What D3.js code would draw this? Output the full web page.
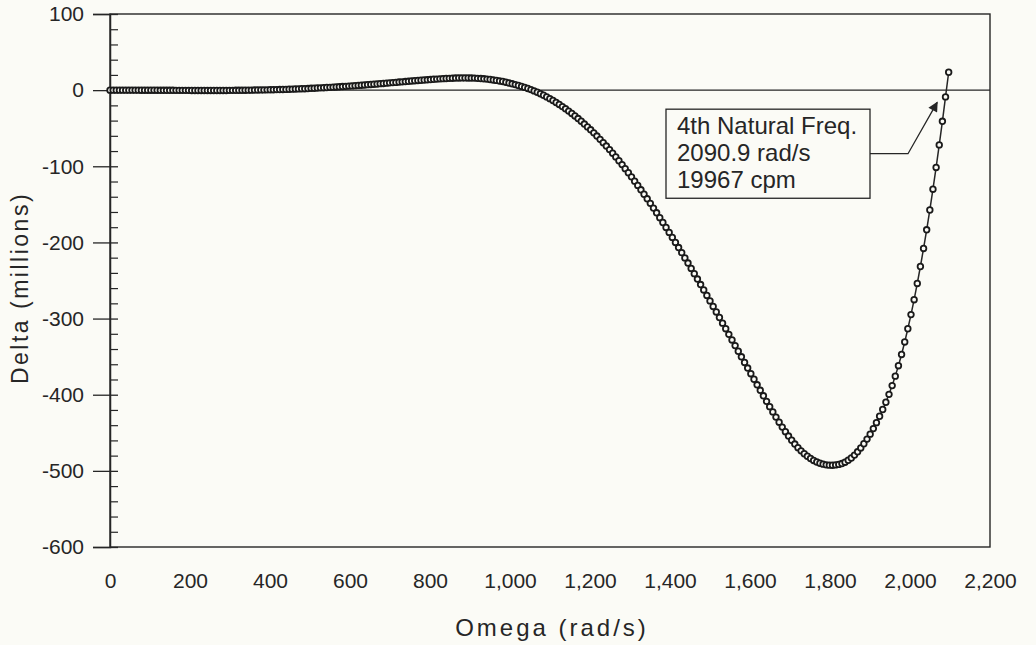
<!DOCTYPE html>
<html><head><meta charset="utf-8">
<script src="https://cdn.jsdelivr.net/npm/d3@7"></script>
<style>body{margin:0;background:#fbfbf6}svg{display:block}</style>
</head><body><svg id="c" width="1036" height="645"></svg>
<script>
// ---- data (samples every 75 cpm) ----
const omega = [0,7.9,15.7,23.6,31.4,39.3,47.1,55.0,62.8,70.7,
78.5,86.4,94.2,102.1,110.0,117.8,125.7,133.5,141.4,149.2,
157.1,164.9,172.8,180.6,188.5,196.3,204.2,212.1,219.9,227.8,
235.6,243.5,251.3,259.2,267.0,274.9,282.7,290.6,298.5,306.3,
314.2,322.0,329.9,337.7,345.6,353.4,361.3,369.1,377.0,384.8,
392.7,400.6,408.4,416.3,424.1,432.0,439.8,447.7,455.5,463.4,
471.2,479.1,486.9,494.8,502.7,510.5,518.4,526.2,534.1,541.9,
549.8,557.6,565.5,573.3,581.2,589.0,596.9,604.8,612.6,620.5,
628.3,636.2,644.0,651.9,659.7,667.6,675.4,683.3,691.2,699.0,
706.9,714.7,722.6,730.4,738.3,746.1,754.0,761.8,769.7,777.5,
785.4,793.3,801.1,809.0,816.8,824.7,832.5,840.4,848.2,856.1,
863.9,871.8,879.6,887.5,895.4,903.2,911.1,918.9,926.8,934.6,
942.5,950.3,958.2,966.0,973.9,981.7,989.6,997.5,1005.3,1013.2,
1021.0,1028.9,1036.7,1044.6,1052.4,1060.3,1068.1,1076.0,1083.8,1091.7,
1099.6,1107.4,1115.3,1123.1,1131.0,1138.8,1146.7,1154.5,1162.4,1170.2,
1178.1,1185.9,1193.8,1201.6,1209.5,1217.3,1225.2,1233.1,1240.9,1248.8,
1256.6,1264.5,1272.3,1280.2,1288.0,1295.9,1303.7,1311.6,1319.4,1327.3,
1335.1,1343.0,1350.8,1358.7,1366.5,1374.4,1382.2,1390.1,1397.9,1405.8,
1413.6,1421.5,1429.3,1437.2,1445.0,1452.9,1460.7,1468.6,1476.5,1484.3,
1492.2,1500.0,1507.9,1515.7,1523.6,1531.4,1539.3,1547.1,1555.0,1562.8,
1570.7,1578.5,1586.4,1594.2,1602.1,1610.0,1617.8,1625.7,1633.5,1641.4,
1649.2,1657.1,1664.9,1672.8,1680.6,1688.5,1696.3,1704.2,1712.0,1719.9,
1727.7,1735.6,1743.4,1751.3,1759.1,1767.0,1774.8,1782.7,1790.5,1798.4,
1806.2,1814.1,1821.9,1829.8,1837.6,1845.5,1853.3,1861.2,1869.0,1876.9,
1884.7,1892.6,1900.4,1908.3,1916.1,1924.0,1931.8,1939.7,1947.5,1955.4,
1963.2,1971.1,1978.9,1986.8,1994.6,2002.5,2010.3,2018.2,2026.0,2033.9,
2041.7,2049.6,2057.4,2065.3,2073.1,2081.0,2088.8,2096.7];
const delta = [0,0,0,0,0,0,0,0,0,0,
-0.1,-0.1,-0.1,-0.1,-0.1,-0.1,-0.2,-0.2,-0.2,-0.2,
-0.2,-0.3,-0.3,-0.3,-0.3,-0.3,-0.4,-0.4,-0.4,-0.4,
-0.4,-0.4,-0.4,-0.4,-0.4,-0.4,-0.4,-0.4,-0.3,-0.3,
-0.2,-0.2,-0.2,-0.1,0,0,0.1,0.2,0.3,0.3,
0.4,0.5,0.6,0.7,0.8,0.9,1.0,1.2,1.3,1.5,
1.6,1.8,1.9,2.1,2.4,2.5,2.8,3.0,3.2,3.5,
3.7,3.9,4.2,4.4,4.7,5.0,5.3,5.6,5.9,6.2,
6.5,6.8,7.2,7.5,7.8,8.1,8.5,8.8,9.2,9.6,
9.9,10.2,10.6,10.9,11.3,11.6,12.0,12.4,12.7,13.0,
13.3,13.6,13.9,14.3,14.5,14.8,15.1,15.3,15.5,15.7,
15.9,16.0,16.1,16.1,16.0,15.9,15.8,15.5,15.2,14.9,
14.5,14.0,13.4,12.8,12.1,11.4,10.4,9.4,8.3,7.3,
6.1,4.9,3.6,2.2,0.7,-1.0,-2.8,-4.7,-6.7,-8.9,
-11.2,-13.6,-16.2,-18.8,-21.6,-24.5,-27.5,-30.6,-33.9,-37.3,
-40.8,-44.5,-48.3,-52.1,-56.1,-60.3,-64.6,-69.0,-73.4,-78.1,
-82.8,-87.7,-92.7,-97.8,-103.1,-108.5,-113.9,-119.5,-125.1,-130.9,
-136.7,-142.7,-148.7,-154.9,-161.1,-167.5,-173.8,-180.3,-186.8,-193.4,
-200.0,-206.7,-213.4,-220.3,-227.1,-234.1,-241.0,-248.1,-255.3,-262.4,
-269.6,-276.8,-284.1,-291.3,-298.6,-306.0,-313.3,-320.7,-328.1,-335.5,
-342.9,-350.2,-357.6,-365.0,-372.4,-379.7,-387.0,-394.2,-401.4,-408.7,
-415.7,-422.6,-429.4,-436.1,-442.5,-448.6,-454.3,-459.8,-464.8,-469.5,
-473.7,-477.5,-480.8,-483.8,-486.3,-488.4,-490.0,-491.2,-492.1,-492.5,
-492.6,-492.2,-491.5,-490.4,-488.6,-486.1,-483.1,-479.3,-475.0,-469.9,
-464.4,-458.3,-451.8,-444.5,-436.7,-428.3,-419.4,-409.9,-399.5,-388.0,
-375.6,-361.9,-347.1,-330.7,-313.4,-294.8,-275.2,-253.9,-231.6,-207.9,
-183.4,-157.4,-130.1,-101.5,-71.9,-40.9,-8.9,23.5];
const xTicks = [0,200,400,600,800,1000,1200,1400,1600,1800,2000,2200];
const yTicks = [100,0,-100,-200,-300,-400,-500,-600];
const yMinorTicks = [80,60,40,20,-20,-40,-60,-80,-120,-140,-160,-180,-220,-240,-260,-280,
  -320,-340,-360,-380,-420,-440,-460,-480,-520,-540,-560,-580];
const xTitle = "Omega (rad/s)";
const yTitle = "Delta (millions)";
const noteLines = ["4th Natural Freq.", "2090.9 rad/s", "19967 cpm"];
const noteBox = {w0: 1390, d0: -25, w1: 1900, d1: -142};   // box corners in data units
const noteArrow = {from: [1995, -84], tip: [2068, -16]};

// ---- drawing ----
const FONT = "'Liberation Sans', Arial, Helvetica, sans-serif";
const INK = "#262626";
const BG = "#fbfbf6";
const svg = d3.select("#c");
svg.append("rect").attr("width",1036).attr("height",645).attr("fill",BG);

const x = d3.scaleLinear().domain([0,2200]).range([110,990]);
const y = d3.scaleLinear().domain([-600,100]).range([547,14]);

// Frame
svg.append("rect").attr("x",x(0)).attr("y",y(100)).attr("width",x(2200)-x(0)).attr("height",y(-600)-y(100))
  .attr("fill","none").attr("stroke",INK).attr("stroke-width",1.4);

// Y axis (major)
const yAx = svg.append("g").attr("transform",`translate(${x(0)},0)`)
  .call(d3.axisLeft(y).tickValues(yTicks).tickSize(17).tickPadding(9).tickFormat(d => String(d)));
yAx.select(".domain").attr("stroke",INK).attr("stroke-width",1.5);
yAx.selectAll(".tick line").attr("x1",-17).attr("x2",8).attr("stroke",INK).attr("stroke-width",1.3);
yAx.selectAll(".tick text").attr("font-family",FONT).attr("font-size",21).attr("fill",INK);
// Y axis minor
const yMin = svg.append("g").attr("transform",`translate(${x(0)},0)`)
  .call(d3.axisRight(y).tickValues(yMinorTicks).tickSize(8).tickFormat(""));
yMin.select(".domain").remove();
yMin.selectAll(".tick line").attr("stroke",INK).attr("stroke-width",1.2);

// X axis
const xAx = svg.append("g").attr("transform",`translate(0,${y(-600)})`)
  .call(d3.axisBottom(x).tickValues(xTicks).tickSize(0).tickPadding(26).tickFormat(d3.format(",")));
xAx.select(".domain").remove();
xAx.selectAll(".tick text").attr("font-family",FONT).attr("font-size",21).attr("fill",INK);

// zero line
svg.append("line").attr("x1",x(0)).attr("x2",x(2200)).attr("y1",y(0)).attr("y2",y(0))
  .attr("stroke",INK).attr("stroke-width",1.3);

// Titles
svg.append("text").attr("x",(x(0)+x(2200))/2+2).attr("y",636).attr("text-anchor","middle")
  .attr("font-family",FONT).attr("font-size",24).attr("letter-spacing",3).attr("fill",INK).text(xTitle);
svg.append("text").attr("transform",`translate(28,288) rotate(-90)`).attr("text-anchor","middle")
  .attr("font-family",FONT).attr("font-size",23).attr("letter-spacing",2.5).attr("fill",INK).text(yTitle);

// Curve
const pts = omega.map((w,i) => [w, delta[i]]);
svg.append("path").datum(pts)
  .attr("d", d3.line().x(d => x(d[0])).y(d => y(d[1])))
  .attr("fill","none").attr("stroke",INK).attr("stroke-width",1.5);
svg.append("g").selectAll("circle").data(pts).join("circle")
  .attr("cx", d => x(d[0])).attr("cy", d => y(d[1])).attr("r",2.8)
  .attr("fill",BG).attr("stroke","#1a1a1a").attr("stroke-width",1.8);

// Annotation
const bx0 = x(noteBox.w0), by0 = y(noteBox.d0), bx1 = x(noteBox.w1), by1 = y(noteBox.d1);
const ax0 = x(noteArrow.from[0]), tipX = x(noteArrow.tip[0]), tipY = y(noteArrow.tip[1]);
const midY = (by0+by1)/2;
svg.append("defs").append("marker").attr("id","ah").attr("viewBox","0 0 10 10").attr("refX",9).attr("refY",5)
  .attr("markerWidth",13).attr("markerHeight",10).attr("markerUnits","userSpaceOnUse").attr("orient","auto")
  .append("path").attr("d","M0,0L10,5L0,10z").attr("fill",INK);
svg.append("path").attr("d",`M${bx1},${midY}L${ax0},${midY}L${tipX},${tipY}`)
  .attr("fill","none").attr("stroke",INK).attr("stroke-width",1.3).attr("marker-end","url(#ah)");
svg.append("rect").attr("x",bx0).attr("y",by0).attr("width",bx1-bx0).attr("height",by1-by0)
  .attr("fill",BG).attr("stroke",INK).attr("stroke-width",1.3);
svg.append("g").selectAll("text").data(noteLines).join("text")
  .attr("x",bx0+11).attr("y",(d,i) => by0+25+i*27)
  .attr("font-family",FONT).attr("font-size",24).attr("fill",INK).text(d => d);
</script></body></html>
